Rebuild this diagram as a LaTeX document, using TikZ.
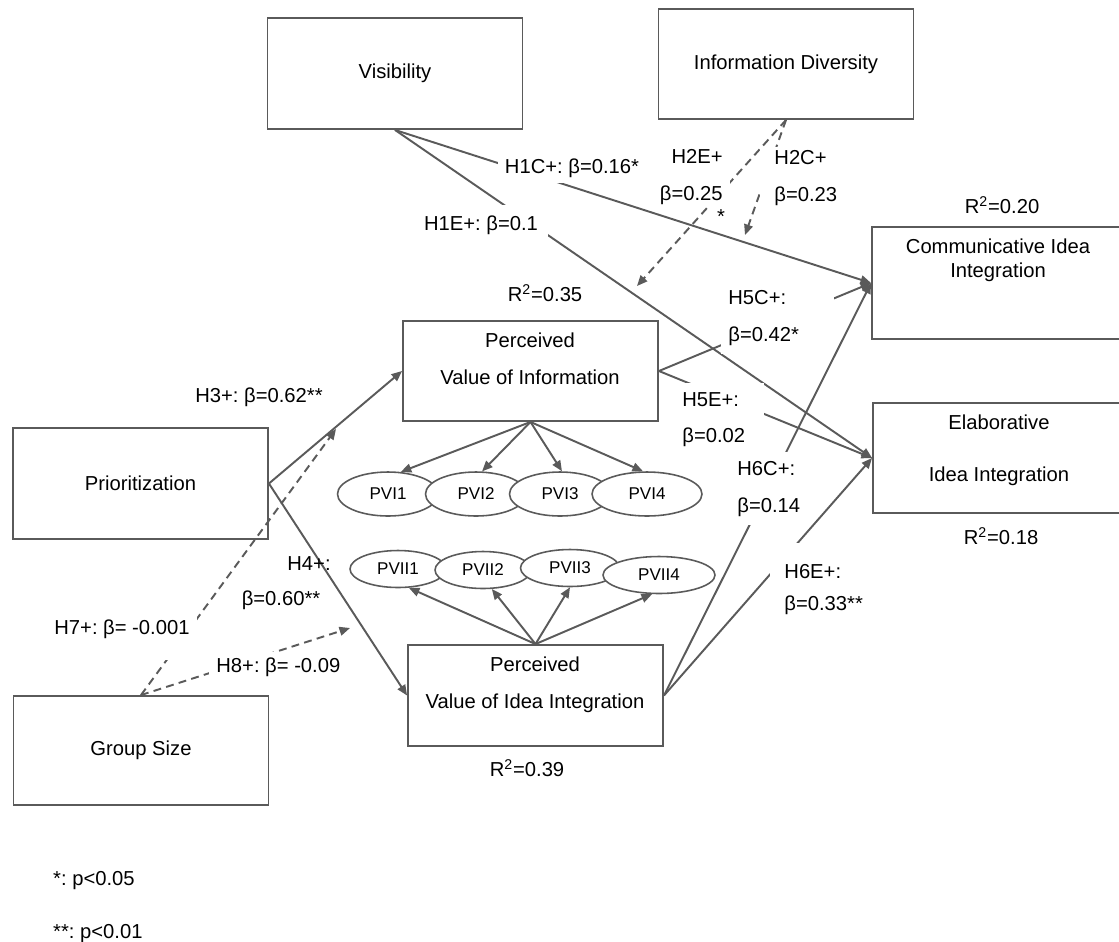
\documentclass[tikz,border=0pt]{standalone}
\usepackage{fontspec}
\setmainfont{Liberation Sans}
\usetikzlibrary{arrows.meta,shapes.geometric}
\definecolor{linegray}{RGB}{90,90,90}

\begin{document}
\frenchspacing
\begin{tikzpicture}[x=0.02cm, y=-0.02cm,
        font=\fontsize{11.5}{13.8}\selectfont,
        box/.style={draw=linegray, line width=1.1pt, inner sep=0pt,
            minimum width=5.1cm, minimum height=2.22cm},
        ind/.style={ellipse, draw=linegray, line width=0.9pt, fill=white,
            inner sep=0pt, minimum width=2.02cm, minimum height=0.88cm,
            font=\fontsize{9.7}{11}\selectfont},
        indb/.style={ind, minimum width=1.92cm, minimum height=0.74cm},
        effect/.style={draw=linegray, line width=1.1pt, -{Triangle[length=6pt,width=5pt]}},
        moderate/.style={effect, dash pattern=on 4.5pt off 3pt},
        lbl/.style={fill=white, inner xsep=4pt, inner ysep=3pt, align=left}]
        \useasboundingbox (0,0) rectangle (1119,941);
        % konstrukty
        \node[box] (vis) at (395,73.5) {Visibility};
        \node[box, minimum height=2.2cm] (infodiv) at (786,64) {Information Diversity};
        \node[box] (prior) at (140.5,483.5) {Prioritization};
        \node[box, minimum height=2.18cm] (group) at (141,750.5) {Group Size};
        \node[box, minimum height=2.0cm] (pvinfo) at (530.5,371) {};
        \node[align=center] (pvinfotxt) at (530,359) {Perceived\\[7.2pt]Value of Information};
        \node[box, minimum height=2.02cm] (pvii) at (535.5,695.5) {};
        \node[align=center] (pviitxt) at (535,685) {Perceived\\[7.2pt]Value of Idea Integration};
        \node[box, minimum width=5.04cm, minimum height=2.24cm] (comm) at (998,283) {};
        \node[align=center] (commtxt) at (998,260) {Communicative Idea\\Integration};
        \node[box, minimum width=5.04cm, minimum height=2.2cm] (elab) at (999,458) {};
        \node[align=center] (elabtxt) at (999,450) {Elaborative\\[15.7pt]Idea Integration};
        % R^2
        \node (r35) at (545,293) {R\textsuperscript{2}=0.35};
        \node (r20) at (1002,205) {R\textsuperscript{2}=0.20};
        \node (r18) at (1001,536) {R\textsuperscript{2}=0.18};
        \node (r39) at (527,768) {R\textsuperscript{2}=0.39};
        % wskazniki
        \foreach \k/\x in {1/388,2/476,3/560} {
            \node[ind] (pvi\k) at (\x,494) {PVI\k};
        }
        \node[ind, minimum width=2.2cm] (pvi4) at (647,494) {PVI4};
        \node[indb] (pvii1) at (398,569) {PVII1};
        \node[indb] (pvii2) at (483,570) {PVII2};
        \node[indb, minimum width=1.98cm] (pvii3) at (570,568) {PVII3};
        \node[indb, minimum width=2.24cm] (pvii4) at (659,575) {PVII4};
        \foreach \k/\a in {1/60,2/75,3/85,4/100} {
            \draw[effect] (pvinfo.south) -- (pvi\k.\a);
        }
        \foreach \k/\a in {1/-60,2/-65,3/-90,4/-110} {
            \draw[effect] (pvii.north) -- (pvii\k.\a);
        }
        % sciezki
        \draw[effect] (prior.east) -- (pvinfo.west);
        \draw[effect] (prior.east) -- (pvii.west);
        \draw[effect] (vis.south) -- (comm.west);
        \draw[effect] (vis.south) -- (elab.west);
        \draw[effect] (pvinfo.east) -- (comm.west);
        \draw[effect] (pvinfo.east) -- (elab.west);
        \draw[effect] (pvii.east) -- (comm.west);
        \draw[effect] (pvii.east) -- (elab.west);
        % moderacje
        \coordinate (m2e) at (637,286);
        \coordinate (m2c) at (745,235);
        \coordinate (m7) at (336,429);
        \coordinate (m8) at (350,628);
        \draw[moderate] (infodiv.south) -- (m2e);
        \draw[moderate] (infodiv.south) -- (m2c);
        \draw[moderate] (group.north) -- (m7);
        \draw[moderate] (group.north) -- (m8);
        % etykiety sciezek
        \node[lbl] (l1c) at (572,168) {H1C+: β=0.16*};
        \node[lbl, inner sep=6pt] (l1e) at (481,225) {H1E+: β=0.1};
        \node[lbl, anchor=north east, align=right, inner ysep=1.5pt] (l2e) at (730,146) {H2E+\\[7.2pt]β=0.25};
        \node (l2estar) at (721,217) {*};
        \node[lbl, anchor=north west, inner xsep=8pt, inner ysep=2pt] (l2c) at (760,147) {H2C+\\[7.2pt]β=0.23};
        \node[lbl] (l3) at (259,397) {H3+: β=0.62**};
        \node (l4a) at (309,564) {H4+:};
        \node (l4b) at (281,600) {β=0.60**};
        \node[lbl, anchor=north west, text width=1.98cm, inner ysep=5pt] (l5c) at (721,281) {H5C+:\\[7.2pt]β=0.42*};
        \node[lbl, anchor=north west, text width=1.5cm, inner ysep=5pt] (l5e) at (675,383) {H5E+:\\[7.2pt]β=0.02};
        \node[lbl, anchor=north west, text width=1.3cm, inner ysep=5pt] (l6c) at (730,452) {H6C+:\\[7.2pt]β=0.14};
        \node[lbl, anchor=north west, text width=1.5cm, inner xsep=8pt, text height=17pt] (l6e) at (770,543) {H6E+:\\[4.3pt]β=0.33**};
        \node[lbl, anchor=base west, text depth=12pt] (l7) at (47,634) {H7+: β= -0.001};
        \node[lbl, anchor=base west] (l8) at (209,672) {H8+: β= -0.09};
        % poziomy istotnosci
        \node[anchor=west] (note1) at (47,881) {*: p<0.05};
        \node[anchor=west] (note2) at (47,934) {**: p<0.01};
    \end{tikzpicture}
\end{document}
